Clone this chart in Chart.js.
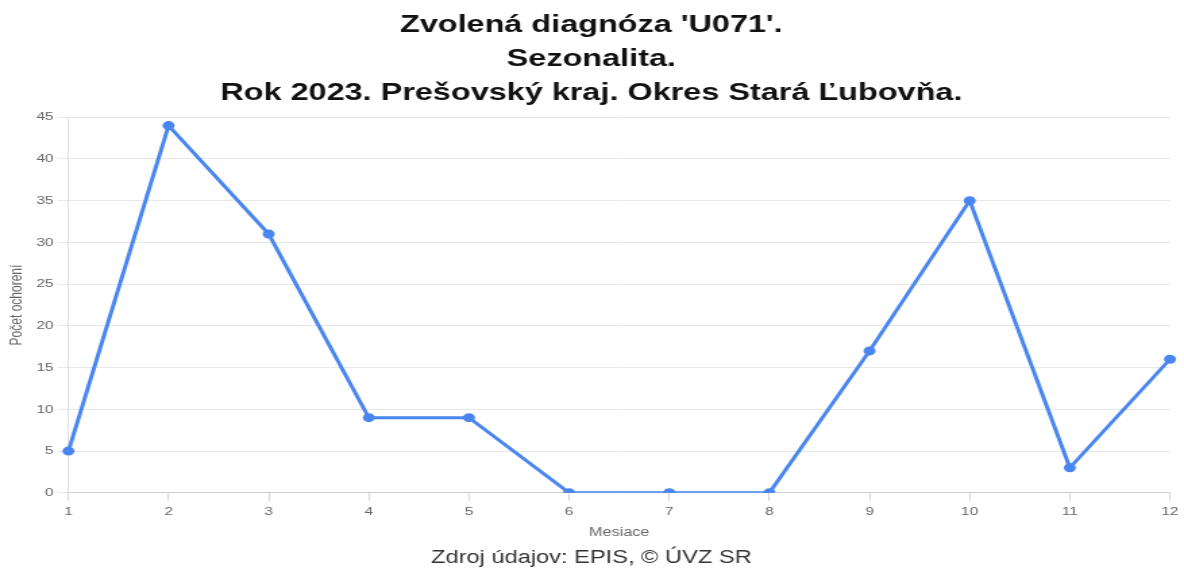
<!DOCTYPE html>
<html>
<head>
<meta charset="utf-8">
<script src="https://cdn.jsdelivr.net/npm/chart.js@4.4.0/dist/chart.umd.min.js"></script>
<style>
  html, body { margin: 0; padding: 0; background: #fff; overflow: hidden; }
  #c { display: block; width: 1184px !important; height: 569px !important; }
</style>
</head>
<body>
<canvas id="c" width="877" height="569"></canvas>
<script>
const months = ['1','2','3','4','5','6','7','8','9','10','11','12'];
const cases = [5, 44, 31, 9, 9, 0, 0, 0, 17, 35, 3, 16];
const titleLines = ["Zvolená diagnóza 'U071'.", "Sezonalita.", "Rok 2023. Prešovský kraj. Okres Stará Ľubovňa."];
const footerText = 'Zdroj údajov: EPIS, © ÚVZ SR';
const yTitle = 'Počet ochorení';
const xTitle = 'Mesiace';

const FONT = 'Liberation Sans, Arial, sans-serif';

new Chart(document.getElementById('c'), {
  type: 'line',
  data: {
    labels: months,
    datasets: [{
      data: cases,
      borderColor: '#4a86f0',
      backgroundColor: '#4a86f0',
      borderWidth: 3,
      pointRadius: 3,
      pointHoverRadius: 3,
      tension: 0,
      fill: false
    }]
  },
  options: {
    responsive: false,
    animation: false,
    devicePixelRatio: 1,
    layout: { padding: { left: 5.5, right: 6.5, top: 0, bottom: 0 } },
    plugins: {
      legend: { display: false },
      tooltip: { enabled: false },
      title: {
        display: true,
        text: titleLines,
        color: '#111',
        font: { family: FONT, size: 24, weight: 'bold', lineHeight: 1.42 },
        padding: { top: 8, bottom: 7 }
      },
      subtitle: {
        display: true,
        position: 'bottom',
        text: footerText,
        color: '#333',
        font: { family: FONT, size: 17.5, weight: 'normal' },
        padding: { top: 8, bottom: 0 }
      }
    },
    scales: {
      x: {
        offset: false,
        grid: { color: '#d6d6d6', drawOnChartArea: false, drawTicks: true, tickLength: 8 },
        border: { color: '#cfcfcf' },
        ticks: { color: '#666', font: { family: FONT, size: 11.5 }, maxRotation: 0, padding: 4 },
        title: { display: true, text: xTitle, color: '#666', font: { family: FONT, size: 12 }, padding: { top: 3, bottom: 0 } }
      },
      y: {
        min: 0, max: 45,
        ticks: { stepSize: 5, color: '#666', font: { family: FONT, size: 11.5 }, padding: 3 },
        grid: { color: '#e8e8e8', tickLength: 8 },
        border: { color: '#e0e0e0' },
        title: { display: true, text: yTitle, color: '#666', font: { family: FONT, size: 12 }, padding: { top: 0, bottom: 4 } }
      }
    }
  }
});
</script>
</body>
</html>
